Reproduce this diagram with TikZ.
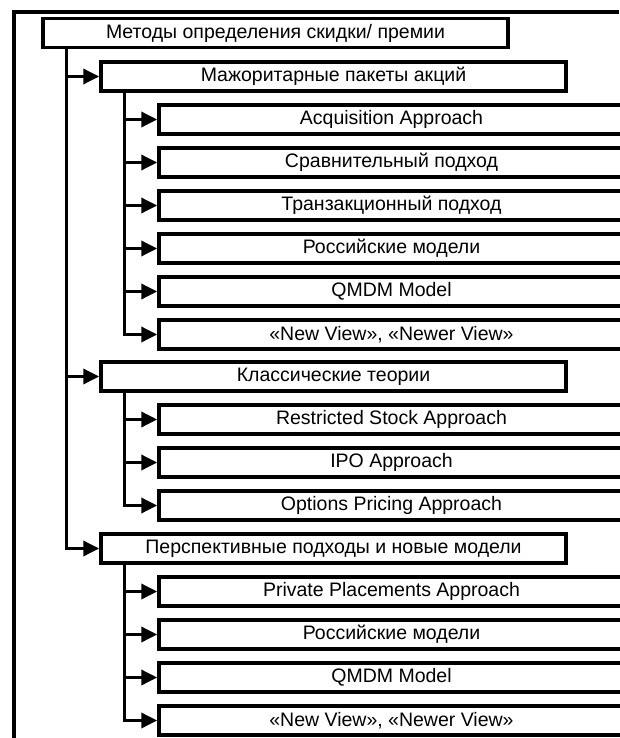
\documentclass[tikz,border=0pt]{standalone}
\usepackage{fontspec}
\setmainfont{Liberation Sans}
\usetikzlibrary{arrows.meta}

\tikzset{
  box/.style={draw, line width=3.5pt, minimum width=465pt, minimum height=29pt,
    inner sep=0pt, font=\fontsize{19.5}{22}\selectfont},
  arr/.style={line width=3.5pt, -{Triangle[length=16pt,width=15pt]}},
}

\begin{document}
\begin{tikzpicture}[x=1pt,y=-1pt]
    \useasboundingbox (0,0) rectangle (619,738);

    % frame
    \draw[line width=4.5pt] (14,738) -- (14,12) -- (619,12);

    \node[box] (root) at (275.5,33) {Методы определения скидки/ премии};

    \begin{scope}
      \node[box] (maj) at (333.5,76.5) {Мажоритарные пакеты акций};
      \foreach \t [count=\i] in {Acquisition Approach, Сравнительный подход,
          Транзакционный подход, Российские модели, QMDM Model,
          {«New View», «Newer View»}}
        \node[box] (maj\i) at (391.5,76.5+43*\i) {\t};
      \foreach \i in {1,...,6}
        \draw[arr] ([xshift=25pt]maj.south west) |- (maj\i);
    \end{scope}

    \begin{scope}
      \node[box] (cls) at (333.5,376.5) {Классические теории};
      \foreach \t [count=\i] in {Restricted Stock Approach, IPO Approach,
          Options Pricing Approach}
        \node[box] (cls\i) at (391.5,376.5+43*\i) {\t};
      \foreach \i in {1,...,3}
        \draw[arr] ([xshift=25pt]cls.south west) |- (cls\i);
    \end{scope}

    \begin{scope}
      \node[box] (prs) at (333.5,548.5) {Перспективные подходы и новые модели};
      \foreach \t [count=\i] in {Private Placements Approach, Российские модели,
          QMDM Model, {«New View», «Newer View»}}
        \node[box] (prs\i) at (391.5,548.5+43*\i) {\t};
      \foreach \i in {1,...,4}
        \draw[arr] ([xshift=25pt]prs.south west) |- (prs\i);
    \end{scope}

    \foreach \n in {maj,cls,prs}
      \draw[arr] ([xshift=25pt]root.south west) |- (\n);

\end{tikzpicture}
\end{document}
